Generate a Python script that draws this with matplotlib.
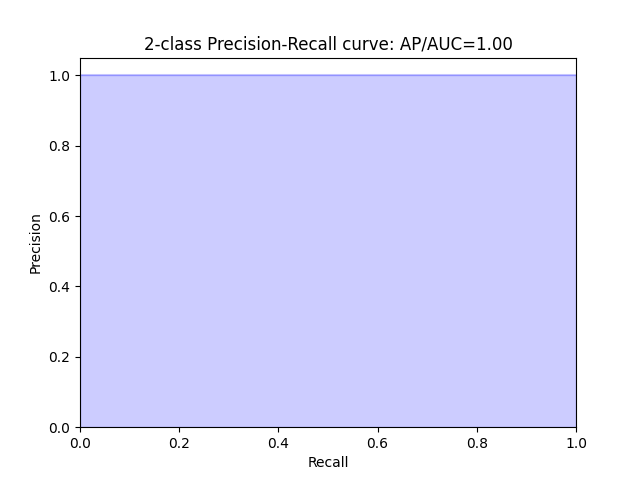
import matplotlib
matplotlib.use('Agg')
import matplotlib.pyplot as plt

recall = [0.0, 1.0]
precision = [1.0, 1.0]
ap = 1.00

plt.figure(figsize=(6.4, 4.8), dpi=100)
plt.step(recall, precision, color='b', alpha=0.2, where='post')
plt.fill_between(recall, precision, step='post', alpha=0.2, color='b')
plt.xlabel('Recall')
plt.ylabel('Precision')
plt.ylim([0.0, 1.05])
plt.xlim([0.0, 1.0])
plt.title('2-class Precision-Recall curve: AP/AUC={0:0.2f}'.format(ap))
plt.savefig('out.png')
